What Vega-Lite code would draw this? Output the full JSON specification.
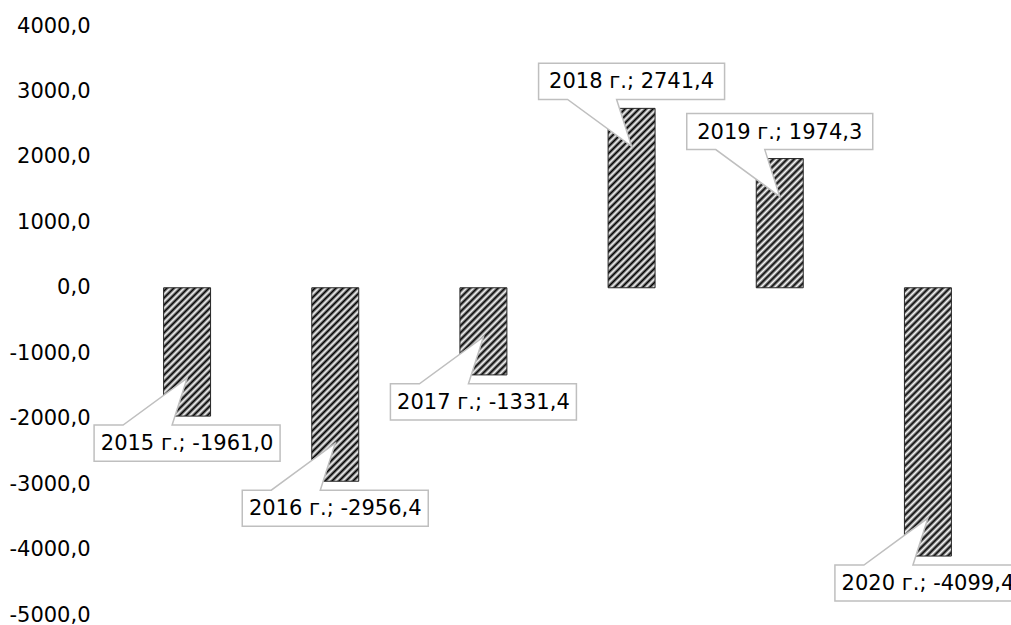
{
  "$schema": "https://vega.github.io/schema/vega-lite/v6.json",
  "width": 889,
  "height": 589,
  "autosize": "none",
  "padding": {"left": 113, "right": 9, "top": 26, "bottom": 10},
  "background": "white",
  "config": {"view": {"stroke": null}},
  "params": [
    {"name": "hatch", "value": [
      {"offset":0,"color":"#fff"},{"offset":0.01,"color":"#000"},{"offset":0.02,"color":"#fff"},{"offset":0.03,"color":"#000"},{"offset":0.04,"color":"#fff"},{"offset":0.05,"color":"#000"},{"offset":0.06,"color":"#fff"},{"offset":0.07,"color":"#000"},{"offset":0.08,"color":"#fff"},{"offset":0.09,"color":"#000"},
      {"offset":0.1,"color":"#fff"},{"offset":0.11,"color":"#000"},{"offset":0.12,"color":"#fff"},{"offset":0.13,"color":"#000"},{"offset":0.14,"color":"#fff"},{"offset":0.15,"color":"#000"},{"offset":0.16,"color":"#fff"},{"offset":0.17,"color":"#000"},{"offset":0.18,"color":"#fff"},{"offset":0.19,"color":"#000"},
      {"offset":0.2,"color":"#fff"},{"offset":0.21,"color":"#000"},{"offset":0.22,"color":"#fff"},{"offset":0.23,"color":"#000"},{"offset":0.24,"color":"#fff"},{"offset":0.25,"color":"#000"},{"offset":0.26,"color":"#fff"},{"offset":0.27,"color":"#000"},{"offset":0.28,"color":"#fff"},{"offset":0.29,"color":"#000"},
      {"offset":0.3,"color":"#fff"},{"offset":0.31,"color":"#000"},{"offset":0.32,"color":"#fff"},{"offset":0.33,"color":"#000"},{"offset":0.34,"color":"#fff"},{"offset":0.35,"color":"#000"},{"offset":0.36,"color":"#fff"},{"offset":0.37,"color":"#000"},{"offset":0.38,"color":"#fff"},{"offset":0.39,"color":"#000"},
      {"offset":0.4,"color":"#fff"},{"offset":0.41,"color":"#000"},{"offset":0.42,"color":"#fff"},{"offset":0.43,"color":"#000"},{"offset":0.44,"color":"#fff"},{"offset":0.45,"color":"#000"},{"offset":0.46,"color":"#fff"},{"offset":0.47,"color":"#000"},{"offset":0.48,"color":"#fff"},{"offset":0.49,"color":"#000"},
      {"offset":0.5,"color":"#fff"},{"offset":0.51,"color":"#000"},{"offset":0.52,"color":"#fff"},{"offset":0.53,"color":"#000"},{"offset":0.54,"color":"#fff"},{"offset":0.55,"color":"#000"},{"offset":0.56,"color":"#fff"},{"offset":0.57,"color":"#000"},{"offset":0.58,"color":"#fff"},{"offset":0.59,"color":"#000"},
      {"offset":0.6,"color":"#fff"},{"offset":0.61,"color":"#000"},{"offset":0.62,"color":"#fff"},{"offset":0.63,"color":"#000"},{"offset":0.64,"color":"#fff"},{"offset":0.65,"color":"#000"},{"offset":0.66,"color":"#fff"},{"offset":0.67,"color":"#000"},{"offset":0.68,"color":"#fff"},{"offset":0.69,"color":"#000"},
      {"offset":0.7,"color":"#fff"},{"offset":0.71,"color":"#000"},{"offset":0.72,"color":"#fff"},{"offset":0.73,"color":"#000"},{"offset":0.74,"color":"#fff"},{"offset":0.75,"color":"#000"},{"offset":0.76,"color":"#fff"},{"offset":0.77,"color":"#000"},{"offset":0.78,"color":"#fff"},{"offset":0.79,"color":"#000"},
      {"offset":0.8,"color":"#fff"},{"offset":0.81,"color":"#000"},{"offset":0.82,"color":"#fff"},{"offset":0.83,"color":"#000"},{"offset":0.84,"color":"#fff"},{"offset":0.85,"color":"#000"},{"offset":0.86,"color":"#fff"},{"offset":0.87,"color":"#000"},{"offset":0.88,"color":"#fff"},{"offset":0.89,"color":"#000"},
      {"offset":0.9,"color":"#fff"},{"offset":0.91,"color":"#000"},{"offset":0.92,"color":"#fff"},{"offset":0.93,"color":"#000"},{"offset":0.94,"color":"#fff"},{"offset":0.95,"color":"#000"},{"offset":0.96,"color":"#fff"},{"offset":0.97,"color":"#000"},{"offset":0.98,"color":"#fff"},{"offset":0.99,"color":"#000"},
      {"offset":1,"color":"#fff"}
    ]}
  ],
  "data": {"values": [
    {"year": "2015 г.", "value": -1961.0, "label": "2015 г.; -1961,0"},
    {"year": "2016 г.", "value": -2956.4, "label": "2016 г.; -2956,4"},
    {"year": "2017 г.", "value": -1331.4, "label": "2017 г.; -1331,4"},
    {"year": "2018 г.", "value": 2741.4, "label": "2018 г.; 2741,4"},
    {"year": "2019 г.", "value": 1974.3, "label": "2019 г.; 1974,3"},
    {"year": "2020 г.", "value": -4099.4, "label": "2020 г.; -4099,4"}
  ]},
  "encoding": {
    "x": {"field": "year", "type": "nominal", "sort": null, "axis": null,
          "scale": {"paddingInner": 0.683, "paddingOuter": 0.3415}},
    "y": {"field": "value", "type": "quantitative",
          "scale": {"domain": [-5000, 4000], "nice": false, "zero": false},
          "axis": {"values": [-5000, -4000, -3000, -2000, -1000, 0, 1000, 2000, 3000, 4000],
                   "labelExpr": "(datum.value < 0 ? '-' : '') + abs(datum.value) + ',0'",
                   "title": null, "domain": false, "ticks": false, "grid": false,
                   "labelFont": "DejaVu Sans", "labelFontSize": 21, "labelColor": "#000000",
                   "labelPadding": 23}}
  },
  "layer": [
    {
      "mark": {"type": "bar", "stroke": "#262626", "strokeWidth": 1,
               "fill": {"expr": "{gradient: 'linear', x1: 0, y1: 0, x2: 350 * bandwidth('x') / (pow(bandwidth('x'), 2) + pow(abs(scale('y', datum.value) - scale('y', 0)), 2)), y2: 350 * abs(scale('y', datum.value) - scale('y', 0)) / (pow(bandwidth('x'), 2) + pow(abs(scale('y', datum.value) - scale('y', 0)), 2)), stops: hatch}"}}
    },
    {
      "mark": {"type": "point", "filled": true, "fill": "#ffffff", "opacity": 1,
               "stroke": "#bfbfbf", "strokeWidth": 1.5, "size": 34596,
               "yOffset": {"expr": "datum.value < 0 ? 27 : -27"}},
      "encoding": {
        "shape": {"condition": {"test": "datum.value < 0",
                                "value": "M-1,-0.194 L-0.688,-0.194 L0,-0.699 L-0.161,-0.194 L1,-0.194 L1,0.194 L-1,0.194 Z"},
                  "value": "M-1,0.194 L-0.688,0.194 L0,0.699 L-0.161,0.194 L1,0.194 L1,-0.194 L-1,-0.194 Z"}
      }
    },
    {
      "mark": {"type": "text", "font": "DejaVu Sans", "fontSize": 21, "color": "#000000",
               "align": "center", "baseline": "middle",
               "yOffset": {"expr": "datum.value < 0 ? 28 : -26"}},
      "encoding": {"text": {"field": "label"}}
    }
  ]
}
